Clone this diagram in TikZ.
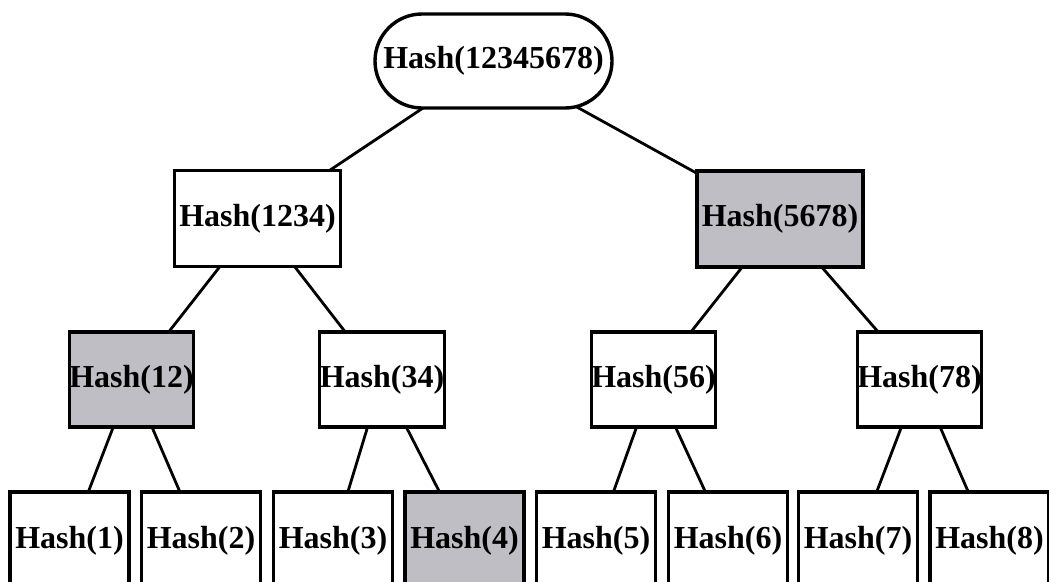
\documentclass[tikz,border=0pt]{standalone}
\usepackage{fontspec}
\setmainfont{Liberation Serif}
\usetikzlibrary{shapes.misc}
\definecolor{hashgray}{RGB}{191,190,196}
\tikzset{
  hashbox/.style={draw, line width=3.4pt, rectangle, inner sep=0pt, outer sep=0pt,
    font=\fontsize{32}{36}\selectfont\bfseries},
  midbox/.style={hashbox, minimum width=122pt, minimum height=95pt},
  topbox/.style={hashbox, minimum width=166pt, minimum height=96pt},
  leafbox/.style={hashbox, minimum width=119pt, minimum height=98pt},
  rootbox/.style={hashbox, rounded rectangle, minimum width=237pt, minimum height=94pt},
  proof/.style={fill=hashgray},
  link/.style={line width=2.8pt}
}
\begin{document}
\begin{tikzpicture}[x=1pt, y=-1pt]
  \useasboundingbox (0,0) rectangle (1049,581);
  \fill[white] (0,0) rectangle (1049,581);

  % root
  \node[rootbox] (r) at (493.5,61) {Hash(12345678)};

  % second level
  \node[topbox] (a) at (257.5,218.5) {Hash(1234)};
  \node[topbox, proof] (b) at (780,219) {Hash(5678)};

  % third level
  \node[midbox, proof] (a1) at (131.5,379.5) {Hash(12)};
  \node[midbox] (a2) at (382,379.5) {Hash(34)};
  \node[midbox] (b1) at (653.5,379.5) {Hash(56)};
  \node[midbox] (b2) at (919.5,379.5) {Hash(78)};

  % leaves
  \node[leafbox] (l1) at (69.5,541) {Hash(1)};
  \node[leafbox] (l2) at (201,541) {Hash(2)};
  \node[leafbox] (l3) at (333,541) {Hash(3)};
  \node[leafbox, proof] (l4) at (464.5,541) {Hash(4)};
  \node[leafbox] (l5) at (596,541) {Hash(5)};
  \node[leafbox] (l6) at (728,541) {Hash(6)};
  \node[leafbox] (l7) at (858,541) {Hash(7)};
  \node[leafbox] (l8) at (989.5,541) {Hash(8)};

  % tree edges
  \draw[link] (r) -- (a);
  \draw[link] (r) -- (b);
  \draw[link] (a) -- (a1);
  \draw[link] (a) -- (a2);
  \draw[link] (b) -- (b1);
  \draw[link] (b) -- (b2);
  \draw[link] (a1) -- (l1);
  \draw[link] (a1) -- (l2);
  \draw[link] (a2) -- (l3);
  \draw[link] (a2) -- (l4);
  \draw[link] (b1) -- (l5);
  \draw[link] (b1) -- (l6);
  \draw[link] (b2) -- (l7);
  \draw[link] (b2) -- (l8);
\end{tikzpicture}
\end{document}
